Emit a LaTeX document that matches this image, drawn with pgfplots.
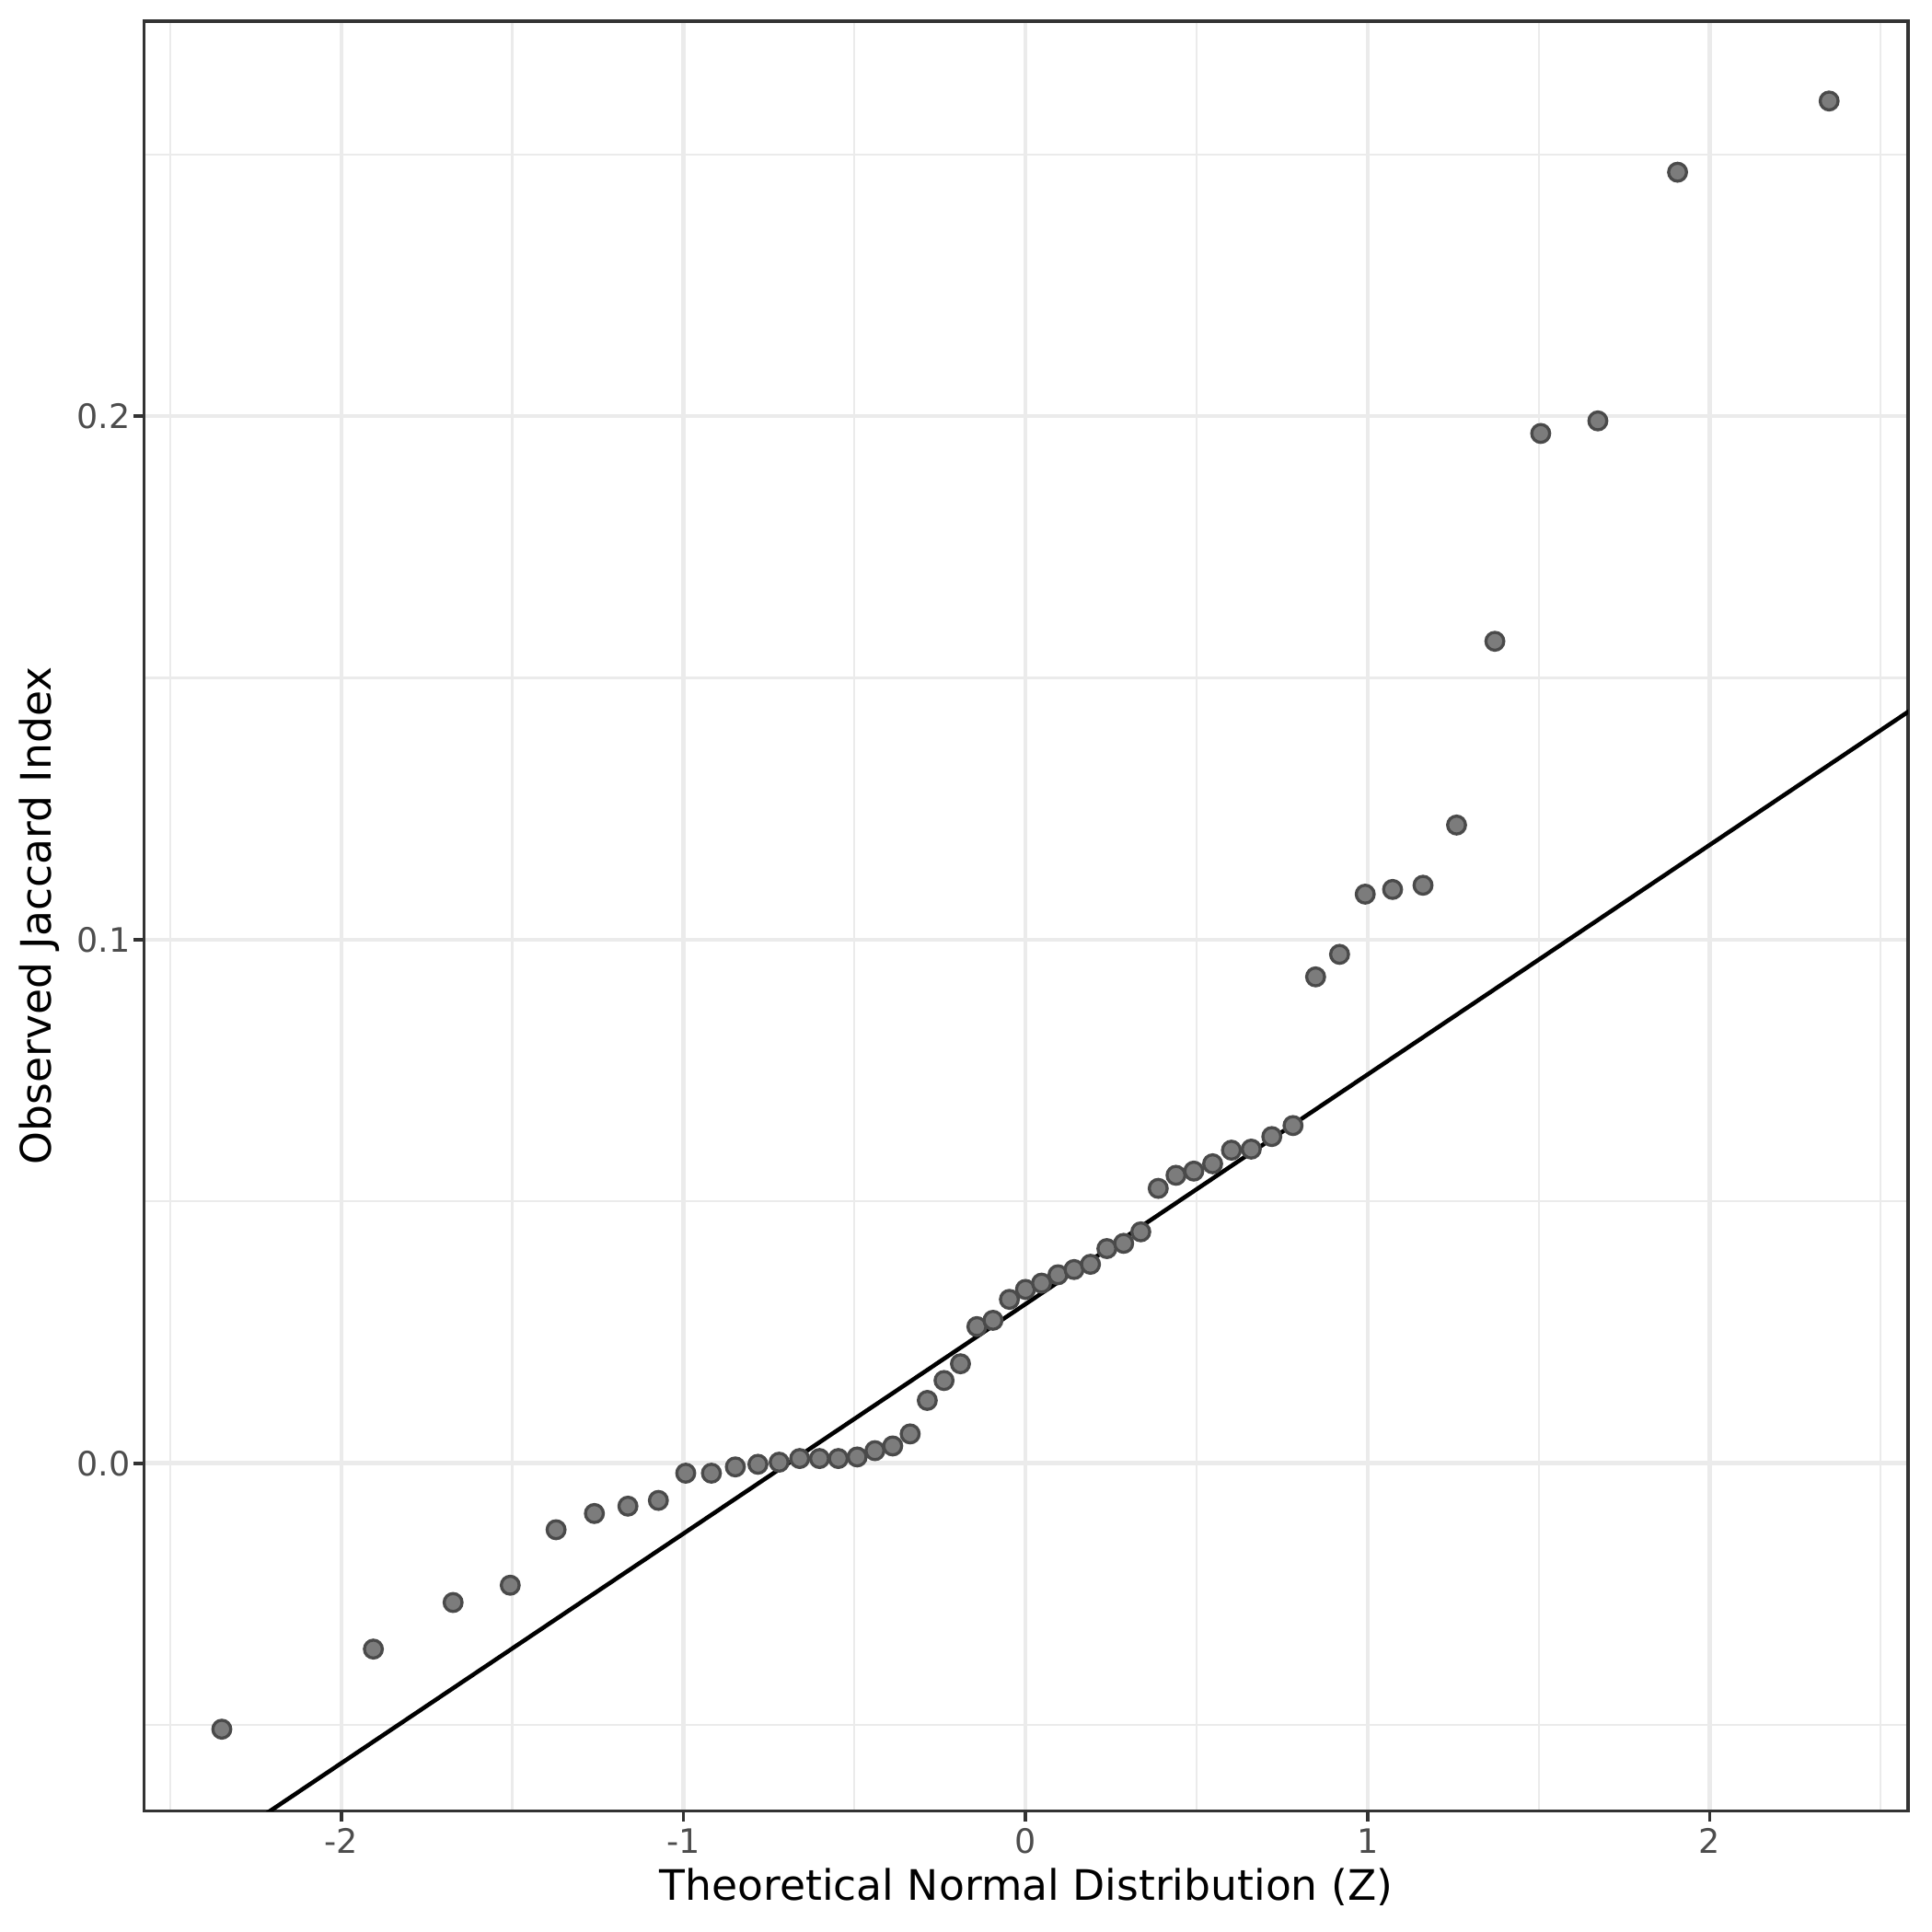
\documentclass[border=0pt]{standalone}
\usepackage{pgfplots}
\pgfplotsset{compat=1.18}
\usepackage{fontspec}
\setmainfont{DejaVu Sans}
\definecolor{gridc}{HTML}{EBEBEB}
\definecolor{bord}{HTML}{333333}
\definecolor{tickc}{HTML}{4D4D4D}
\definecolor{ptfill}{HTML}{7C7C7C}
\definecolor{ptdraw}{HTML}{4A4A4A}
\begin{document}
\begin{tikzpicture}
\begin{axis}[
  at={(0pt,0pt)}, anchor=south west,
  scale only axis,
  width=461.9pt, height=468.7pt,
  xmin=-2.576, xmax=2.58,
  ymin=-0.0664, ymax=0.2755,
  xtick={-2,-1,0,1,2},
  xticklabels={-2,-1,0,1,2},
  ytick={0,0.1,0.2},
  yticklabels={0.0,0.1,0.2},
  minor xtick={-2.5,-1.5,-0.5,0.5,1.5,2.5},
  minor ytick={-0.05,0.05,0.15,0.25},
  grid=both,
  major grid style={color=gridc, line width=1.07pt},
  minor grid style={color=gridc, line width=0.53pt},
  axis line style={color=bord, line width=0.9pt},
  tick align=outside,
  major tick length=2.75pt,
  minor tick length=0pt,
  tick style={color=bord, line width=0.9pt},
  xtick pos=bottom, ytick pos=left,
  ticklabel style={font=\fontsize{8.8}{10}\selectfont, text=tickc},
  xticklabel style={yshift=1.6pt},
  yticklabel style={xshift=2.6pt},
  xlabel={Theoretical Normal Distribution (Z)},
  ylabel={Observed Jaccard Index},
  label style={font=\fontsize{11}{13}\selectfont, text=black},
  xlabel style={at={(axis description cs:0.5,-0.0427)}, anchor=center},
  ylabel style={at={(axis description cs:-0.0593,0.5)}, anchor=center, rotate=0},
  clip=true,
]
\addplot[black, line width=1.1pt, mark=none] coordinates {(-2.7,-0.0880) (2.7,0.1488)};
\addplot[only marks, mark=*, mark size=2.35pt, mark options={fill=ptfill, draw=ptdraw, line width=0.8pt}, draw=none] coordinates {
(-2.349,-0.0508)
(-1.906,-0.0355)
(-1.673,-0.0266)
(-1.506,-0.0233)
(-1.372,-0.0127)
(-1.260,-0.0096)
(-1.162,-0.0082)
(-1.073,-0.0071)
(-0.993,-0.0019)
(-0.918,-0.0019)
(-0.848,-0.0007)
(-0.782,-0.0002)
(-0.720,0.0002)
(-0.660,0.0009)
(-0.602,0.0009)
(-0.547,0.0009)
(-0.492,0.0012)
(-0.440,0.0024)
(-0.388,0.0033)
(-0.337,0.0056)
(-0.287,0.0120)
(-0.238,0.0158)
(-0.190,0.0190)
(-0.142,0.0261)
(-0.095,0.0273)
(-0.047,0.0313)
(0.000,0.0332)
(0.047,0.0344)
(0.095,0.0360)
(0.142,0.0370)
(0.190,0.0380)
(0.238,0.0410)
(0.287,0.0420)
(0.337,0.0442)
(0.388,0.0525)
(0.440,0.0550)
(0.492,0.0558)
(0.547,0.0572)
(0.602,0.0598)
(0.660,0.0600)
(0.720,0.0624)
(0.782,0.0645)
(0.848,0.0929)
(0.918,0.0972)
(0.993,0.1087)
(1.073,0.1096)
(1.162,0.1104)
(1.260,0.1219)
(1.372,0.1570)
(1.506,0.1967)
(1.673,0.1991)
(1.906,0.2466)
(2.349,0.2602)
};
\end{axis}
\path (-37.75pt,-31.6pt) rectangle (468.15pt,474.18pt);
\end{tikzpicture}
\end{document}
